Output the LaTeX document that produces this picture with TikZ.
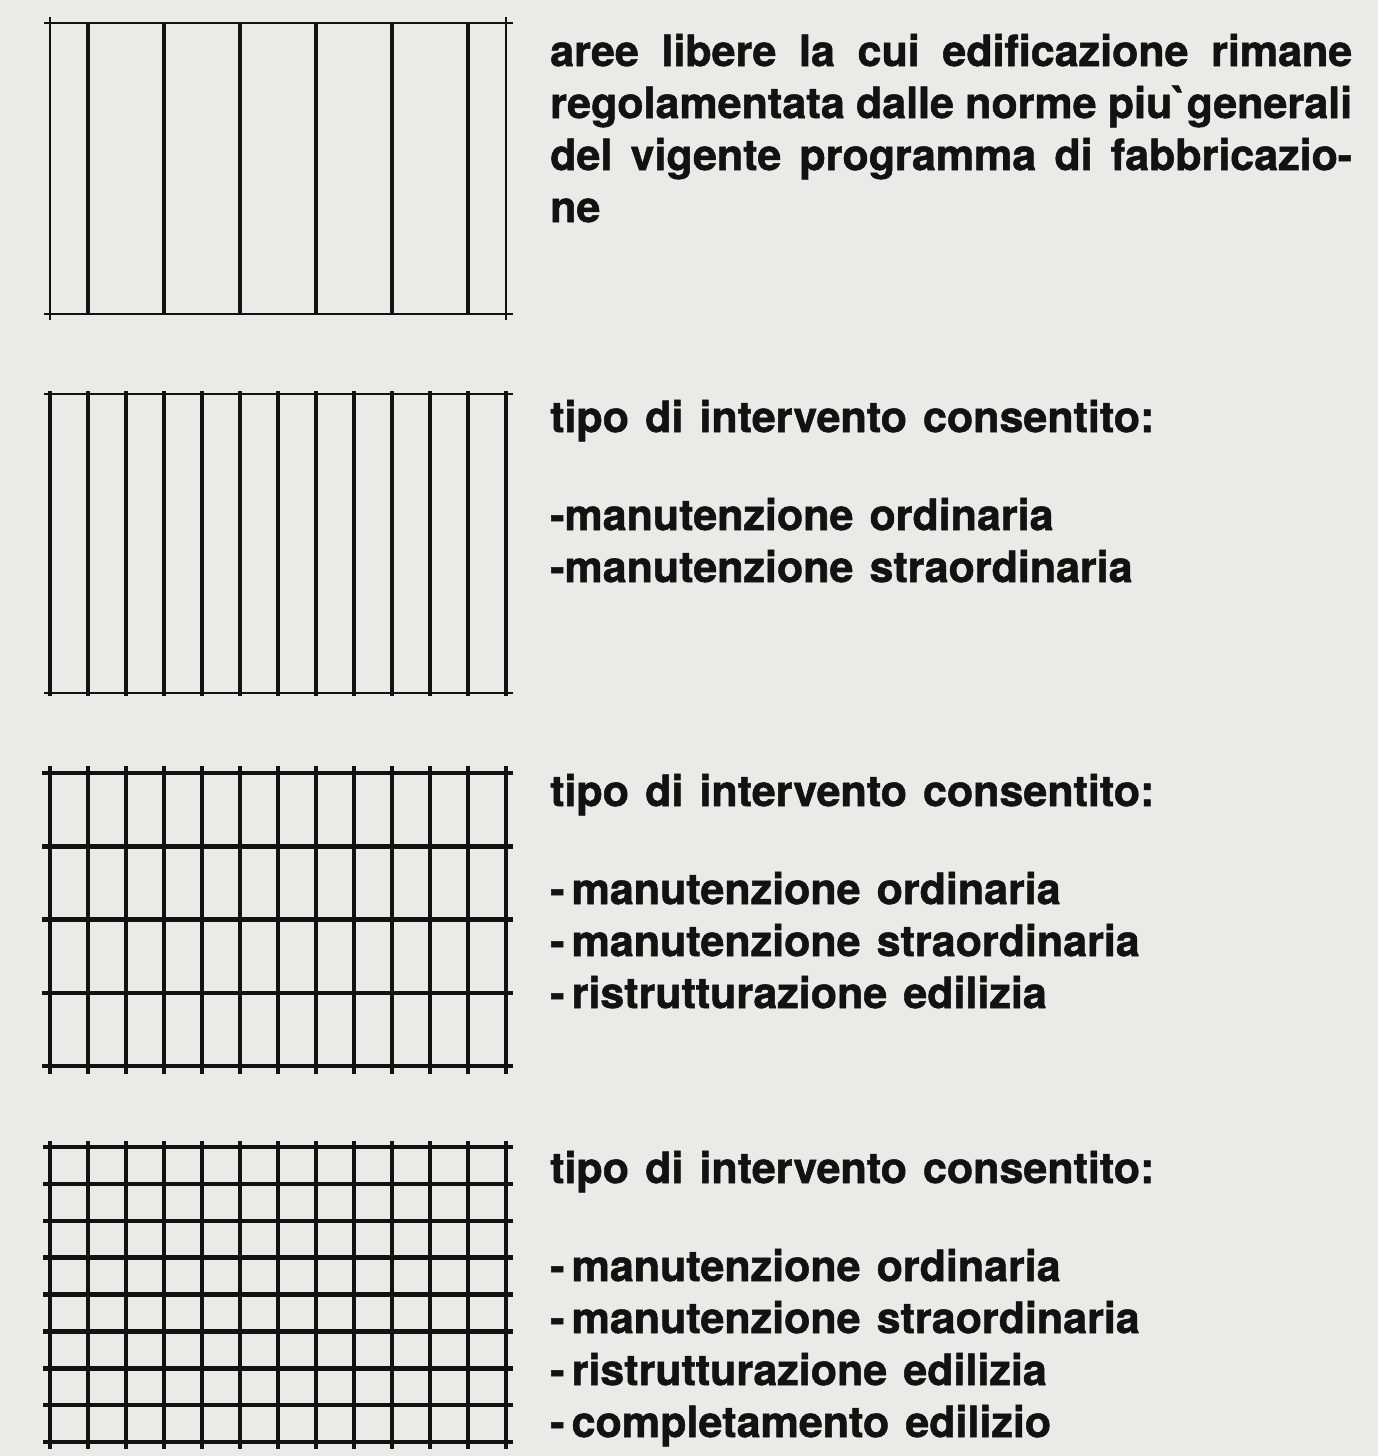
\documentclass[tikz,border=0pt]{standalone}
\usepackage{fontspec}
\setmainfont{TeX Gyre Heros}[WordSpace=1.35,FakeBold=1.2]
\definecolor{paper}{RGB}{234,234,232}
\definecolor{ink}{RGB}{18,18,18}
\tikzset{
  thinline/.style={ink, line width=1.2pt},
  thickline/.style={ink, line width=4.5pt},
  legtext/.style={anchor=base west, inner sep=0pt, align=left, ink,
    font=\fontsize{43}{52}\selectfont\bfseries},
  legjust/.style={legtext, text width=802pt, align=justify},
}
\begin{document}
\begin{tikzpicture}[x=1pt,y=-1pt]
\fill[paper] (0,0) rectangle (1378,1456);
\useasboundingbox (0,0) rectangle (1378,1456);
% legenda 1: aree libere
\draw[thinline] (44,23) -- (513,23) (44,314) -- (513,314) (50,17) -- (50,320) (506,17) -- (506,320);
\foreach \x in {88,164,...,468} \draw[thickline] (\x,23) -- (\x,314);
% legenda 2: righe fitte
\draw[thinline] (44,394) -- (513,394) (44,693) -- (513,693);
\foreach \x in {50,88,...,506} \draw[thickline] (\x,391) -- (\x,696);
% legenda 3: griglia larga
\foreach \y in {773,846.25,...,1067} \draw[thickline] (42,\y) -- (513,\y);
\foreach \x in {50,88,...,506} \draw[thickline] (\x,766) -- (\x,1074);
% legenda 4: griglia fitta
\foreach \y in {1147,1183.875,...,1443} \draw[thickline] (43,\y) -- (513,\y);
\foreach \x in {50,88,...,506} \draw[thickline] (\x,1141) -- (\x,1449);
% testi (ancorati alla linea di base dell'ultima riga)
\node[legjust] (txtA) at (550,66) {\noindent aree libere la cui edificazione rimane\linebreak regolamentata dalle norme piu\textasciigrave generali\linebreak del vigente programma di fabbricazio-\linebreak ne};
\node[legtext] (txtB) at (550,582) {tipo di intervento consentito:\\[46pt]-manutenzione ordinaria\\-manutenzione straordinaria};
\node[legtext] (txtC) at (550,1008) {tipo di intervento consentito:\\[46pt]-\,manutenzione ordinaria\\-\,manutenzione straordinaria\\-\,ristrutturazione edilizia};
\node[legtext] (txtD) at (550,1437) {tipo di intervento consentito:\\[46pt]-\,manutenzione ordinaria\\-\,manutenzione straordinaria\\-\,ristrutturazione edilizia\\-\,completamento edilizio};
\end{tikzpicture}
\end{document}
